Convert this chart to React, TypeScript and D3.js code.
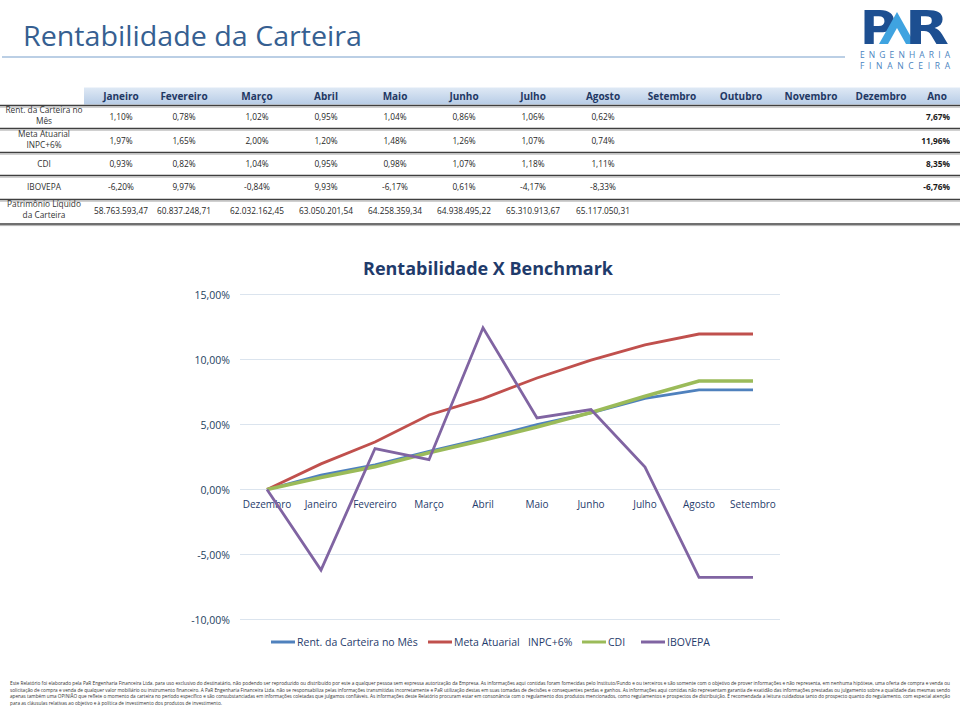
import React from 'react';
import * as d3 from 'd3';

// ---------- DATA ----------
const months = ['Janeiro', 'Fevereiro', 'Março', 'Abril', 'Maio', 'Junho', 'Julho', 'Agosto', 'Setembro', 'Outubro', 'Novembro', 'Dezembro'];
const rowLabels = [['Rent. da Carteira no', 'Mês'], ['Meta Atuarial', 'INPC+6%'], ['CDI'], ['IBOVEPA'], ['Patrimônio Líquido', 'da Carteira']];
const rentMes = [1.10, 0.78, 1.02, 0.95, 1.04, 0.86, 1.06, 0.62];
const metaMes = [1.97, 1.65, 2.00, 1.20, 1.48, 1.26, 1.07, 0.74];
const cdiMes = [0.93, 0.82, 1.04, 0.95, 0.98, 1.07, 1.18, 1.11];
const ibovMes = [-6.20, 9.97, -0.84, 9.93, -6.17, 0.61, -4.17, -8.33];
const anoValues = [7.67, 11.96, 8.35, -6.76];
const plValues = [58763593.47, 60837248.71, 62032162.45, 63050201.54, 64258359.34, 64938495.22, 65310913.67, 65117050.31];

const chartCats = ['Dezembro', 'Janeiro', 'Fevereiro', 'Março', 'Abril', 'Maio', 'Junho', 'Julho', 'Agosto', 'Setembro'];
const rentAcum = [0, 1.10, 1.89, 2.93, 3.91, 4.99, 5.89, 7.01, 7.67, 7.67];
const metaAcum = [0, 1.97, 3.65, 5.73, 6.99, 8.58, 9.95, 11.12, 11.96, 11.96];
const cdiAcum = [0, 0.93, 1.76, 2.82, 3.79, 4.81, 5.93, 7.18, 8.35, 8.35];
const ibovAcum = [0, -6.20, 3.15, 2.29, 12.44, 5.51, 6.15, 1.72, -6.76, -6.76];
const seriesNames = ['Rent. da Carteira no Mês', 'Meta Atuarial   INPC+6%', 'CDI', 'IBOVEPA'];
const yTicks = [-10, -5, 0, 5, 10, 15];

const footerLines = [
  'Este Relatório foi elaborado pela PaR Engenharia Financeira Ltda. para uso exclusivo do destinatário, não podendo ser reproduzido ou distribuído por este a qualquer pessoa sem expressa autorização da Empresa. As informações aqui contidas foram fornecidas pelo Instituto/Fundo e ou terceiros e são somente com o objetivo de prover informações e não representa, em nenhuma hipótese, uma oferta de compra e venda ou',
  'solicitação de compra e venda de qualquer valor mobiliário ou instrumento financeiro. A PaR Engenharia Financeira Ltda. não se responsabiliza pelas informações transmitidas incorretamente e PaR utilização destas em suas tomadas de decisões e consequentes perdas e ganhos. As informações aqui contidas não representam garantia de exatidão das informações prestadas ou julgamento sobre a qualidade das mesmas sendo',
  'apenas também uma OPINIÃO que reflete o momento da carteira no período específico e são consubstanciadas em informações coletadas que julgamos confiáveis. As informações deste Relatório procuram estar em consonância com o regulamento dos produtos mencionados, como regulamentos e prospectos de distribuição. É recomendada a leitura cuidadosa tanto do prospecto quanto do regulamento, com especial atenção',
  'para as cláusulas relativas ao objetivo e à política de investimento dos produtos de investimento.',
];

// ---------- STYLE / LAYOUT ----------
const colors = ['#4f81bd', '#c0504d', '#9bbb59', '#8064a2'];
const widths = [2.8, 2.8, 3.6, 2.8];
const colX = [121, 184, 257, 326, 395, 464, 533, 603, 672, 741, 811, 881];
const anoX = 937;
const rowY = [117, 141, 164, 187, 211];
const lineY = [105.5, 128.5, 152.5, 175.5, 199.5, 224];
const navy = '#1f3864';

const locale = d3.formatLocale({ decimal: ',', thousands: '.', grouping: [3], currency: ['R$', ''], minus: '-' });
const fPct = (v: number) => locale.format('.2f')(v) + '%';
const fMoney = locale.format(',.2f');
const fTick = (v: number) => locale.format('.2f')(v) + '%';

export default function App() {
  const colScale = d3.scaleOrdinal<string, number>().domain(months).range(colX);
  const x = d3.scaleBand<string>().domain(chartCats).range([240, 780]);
  const y = d3.scaleLinear().domain([-10, 15]).range([619.5, 294.5]);
  const cx = (c: string) => (x(c) as number) + x.bandwidth() / 2;
  const line = d3.line<[string, number]>().x((d) => cx(d[0])).y((d) => y(d[1]));
  const allSeries = [rentAcum, metaAcum, cdiAcum, ibovAcum];
  const tableRows = [rentMes, metaMes, cdiMes, ibovMes];

  const legendX = [271, 428, 582, 641];
  const font = "'Open Sans', 'DejaVu Sans', sans-serif";
  const valSize = 8.3;

  return (
    <div style={{ position: 'absolute', left: 0, top: 0, width: 960, height: 707, background: '#fff' }}>
      <svg width={960} height={707} style={{ display: 'block', fontFamily: font }}>
        <defs>
          <linearGradient id="hdr" x1="0" y1="0" x2="0" y2="1">
            <stop offset="0" stopColor="#dfe9f5" />
            <stop offset="1" stopColor="#b7cce6" />
          </linearGradient>
        </defs>
        {/* Title */}
        <text x={23} y={46} fontSize={27} fill="#365f91" fontWeight={400} textLength={339} lengthAdjust="spacingAndGlyphs">
          Rentabilidade da Carteira
        </text>
        <line x1={2} x2={845} y1={57} y2={57} stroke="#a5bfdd" strokeWidth={1.5} />

        {/* Logo */}
        <g>
          <text x={860} y={44} fontSize={47} fontWeight={700} fill="#1d4f91" fontFamily="'DejaVu Sans', sans-serif" textLength={36} lengthAdjust="spacingAndGlyphs">P</text>
          <path d="M879,44 L897,12 L915,44 L906,44 L897,28 L888,44 Z" fill="#3fa3e0" />
          <text x={905} y={44} fontSize={47} fontWeight={700} fill="#1d4f91" fontFamily="'DejaVu Sans', sans-serif" textLength={44} lengthAdjust="spacingAndGlyphs">R</text>
          <text x={860} y={57.5} fontSize={8.5} fill="#4a84c0" textLength={90} lengthAdjust="spacing">ENGENHARIA</text>
          <text x={860} y={68.5} fontSize={8.5} fill="#4a84c0" textLength={90} lengthAdjust="spacing">FINANCEIRA</text>
        </g>

        {/* Table header */}
        <rect x={84} y={87.5} width={876} height={17} fill="url(#hdr)" />
        {months.map((m) => (
          <text key={m} x={colScale(m)} y={100} fontSize={10} fontWeight={700} fill={navy} textAnchor="middle">{m}</text>
        ))}
        <text x={anoX} y={100} fontSize={10} fontWeight={700} fill={navy} textAnchor="middle">Ano</text>

        {/* Row lines */}
        {lineY.map((ly, i) => (
          <g key={i}>
            <line x1={0} x2={960} y1={ly} y2={ly} stroke="#3f3f3f" strokeWidth={1.6} />
            <line x1={0} x2={960} y1={ly + 1.6} y2={ly + 1.6} stroke="#b0b0b0" strokeWidth={1} />
          </g>
        ))}

        {/* Row labels */}
        {rowLabels.map((lbl, i) => (
          <text key={i} fontSize={8.3} fill="#333" textAnchor="middle">
            {lbl.map((t, j) => (
              <tspan key={j} x={44} y={lbl.length === 2 ? rowY[i] - 4 + j * 11 : rowY[i] + 3}>{t}</tspan>
            ))}
          </text>
        ))}

        {/* Table values */}
        {tableRows.map((row, i) => (
          <g key={i}>
            {row.map((v, j) => (
              <text key={j} x={colScale(months[j])} y={rowY[i] + 3} fontSize={valSize} fill="#262626" textAnchor="middle">{fPct(v)}</text>
            ))}
            <text x={950} y={rowY[i] + 3} fontSize={valSize} fontWeight={700} fill="#1a1a1a" textAnchor="end">{fPct(anoValues[i])}</text>
          </g>
        ))}
        {plValues.map((v, j) => (
          <text key={j} x={colScale(months[j])} y={rowY[4] + 3} fontSize={valSize} fill="#262626" textAnchor="middle">{fMoney(v)}</text>
        ))}

        {/* Chart */}
        <text x={488} y={275} fontSize={18} fontWeight={700} fill="#1f3b6b" textAnchor="middle" textLength={250} lengthAdjust="spacingAndGlyphs">
          Rentabilidade X Benchmark
        </text>
        {yTicks.map((t) => (
          <g key={t}>
            <line x1={240} x2={780} y1={y(t)} y2={y(t)} stroke="#dbe4ee" strokeWidth={1} />
            <text x={230} y={y(t) + 4} fontSize={10.5} fill="#243f60" textAnchor="end">{fTick(t)}</text>
          </g>
        ))}
        {chartCats.map((c) => (
          <text key={c} x={cx(c)} y={508} fontSize={10} fill="#1f3b6b" textAnchor="middle">{c}</text>
        ))}
        {allSeries.map((s, i) => (
          <path key={i} d={line(chartCats.map((c, j) => [c, s[j]]) as [string, number][]) || ''} fill="none" stroke={colors[i]} strokeWidth={widths[i]} strokeLinejoin="miter" />
        ))}

        {/* Legend */}
        {seriesNames.map((n, i) => (
          <g key={n}>
            <line x1={legendX[i]} x2={legendX[i] + 24} y1={642} y2={642} stroke={colors[i]} strokeWidth={3} />
            <text x={legendX[i] + 26} y={646} fontSize={10.5} fill="#1f3b6b" style={{ whiteSpace: 'pre' }}>{n}</text>
          </g>
        ))}

        {/* Footer */}
        {footerLines.map((t, i) => (
          <text key={i} x={10} y={685 + i * 6.5} fontSize={4.6} fill="#333"
            textLength={i < 3 ? 940 : 212} lengthAdjust="spacingAndGlyphs">{t}</text>
        ))}
      </svg>
    </div>
  );
}
